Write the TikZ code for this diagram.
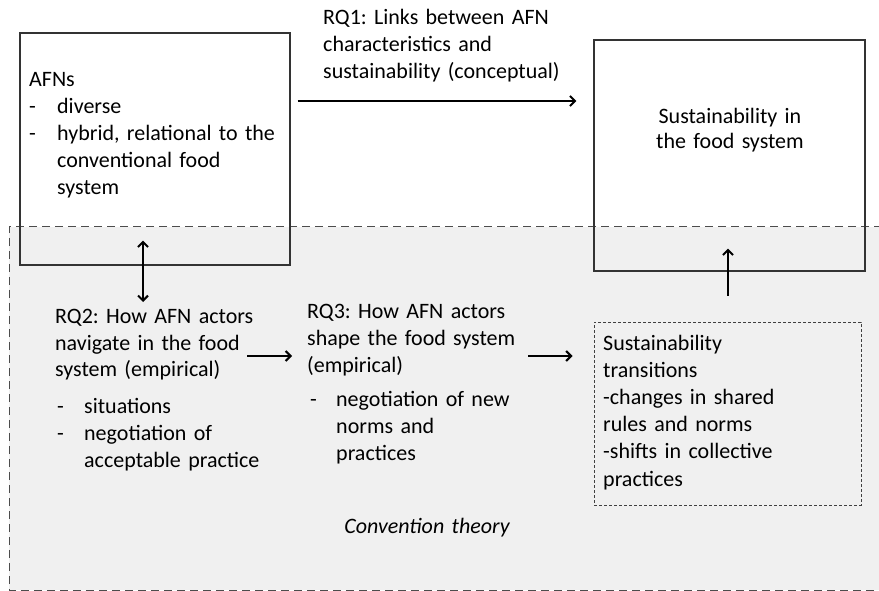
\documentclass[tikz,border=0pt]{standalone}
\usepackage{fontspec}
\setmainfont{Carlito}
\usetikzlibrary{arrows.meta}
\frenchspacing
\begin{document}
\begin{tikzpicture}[x=1pt,y=-1pt,
  txt/.style={anchor=base west, inner sep=0pt, text width=320pt, align=left, font=\fontsize{22}{27}\selectfont},
  box/.style={draw=black!80, line width=1.2pt, inner sep=0pt},
  dbox/.style={draw=black!75, line width=1pt, dash pattern=on 3pt off 2pt, inner sep=0pt},
  arr/.style={-{Straight Barb[length=5pt,width=10pt]}, line width=2pt},
  darr/.style={{Straight Barb[length=5pt,width=10pt]}-{Straight Barb[length=5pt,width=10pt]}, line width=2pt},
]
\useasboundingbox (0,0) rectangle (879,591);
% background region (convention theory)
\fill[black!6] (9,227) rectangle (895,590);
\draw[black!70, line width=1pt, dash pattern=on 8pt off 5pt] (895,227) -- (9,227) -- (9,590) -- (895,590);

% boxes
\node[box, minimum width=270pt, minimum height=232pt] (afn) at (155,149) {};
\node[box, minimum width=271pt, minimum height=231pt] (sus) at (729.5,155.5) {};
\node[dbox, minimum width=267pt, minimum height=183pt] (trans) at (727.5,413.5) {};

% texts
\node[txt] (afnt) at (29,87) {AFNs\\\makebox[28pt][l]{-}diverse\\\makebox[28pt][l]{-}hybrid, relational to the\\\hspace*{28pt}conventional food\\\hspace*{28pt}system};
\node[txt, text width=240pt, align=center, anchor=base, font=\fontsize{22}{25}\selectfont] (sust) at (730,124) {Sustainability in\\the food system};
\node[txt] (rq1) at (323,25) {RQ1: Links between AFN\\characteristics and\\sustainability (conceptual)};
\node[txt] (rq2) at (55,323) {RQ2: How AFN actors\\navigate in the food\\system (empirical)};
\node[txt] (rq2l) at (57,413) {\makebox[27pt][l]{-}situations\\\makebox[27pt][l]{-}negotiation of\\\hspace*{27pt}acceptable practice};
\node[txt] (rq3) at (307,318) {RQ3: How AFN actors\\shape the food system\\(empirical)};
\node[txt] (rq3l) at (310,406) {\makebox[26pt][l]{-}negotiation of new\\\hspace*{26pt}norms and\\\hspace*{26pt}practices};
\node[txt, text width=260pt, align=center, anchor=base] (conv) at (427,533) {\itshape Convention theory};
\node[txt, font=\fontsize{22}{27.2}\selectfont] (trt) at (603,350) {Sustainability\\transitions\\-changes in shared\\rules and norms\\-shifts in collective\\practices};

% connectors
\draw[arr] ([shift={(7,-48)}]afn.east) -- ([shift={(-17,-54.5)}]sus.west);
\draw[darr] ([shift={(-12,-25)}]afn.south) -- ([shift={(88,-21)}]rq2.base west);
\draw[arr] ([shift={(192,33)}]rq2.base west) -- ([shift={(-15,38)}]rq3.base west);
\draw[arr] ([shift={(221,38)}]rq3.base west) -- ([shift={(-21,-57.5)}]trans.west);
\draw[arr] ([shift={(0.5,-26)}]trans.north) -- ([shift={(-1.5,-23)}]sus.south);
\end{tikzpicture}
\end{document}
